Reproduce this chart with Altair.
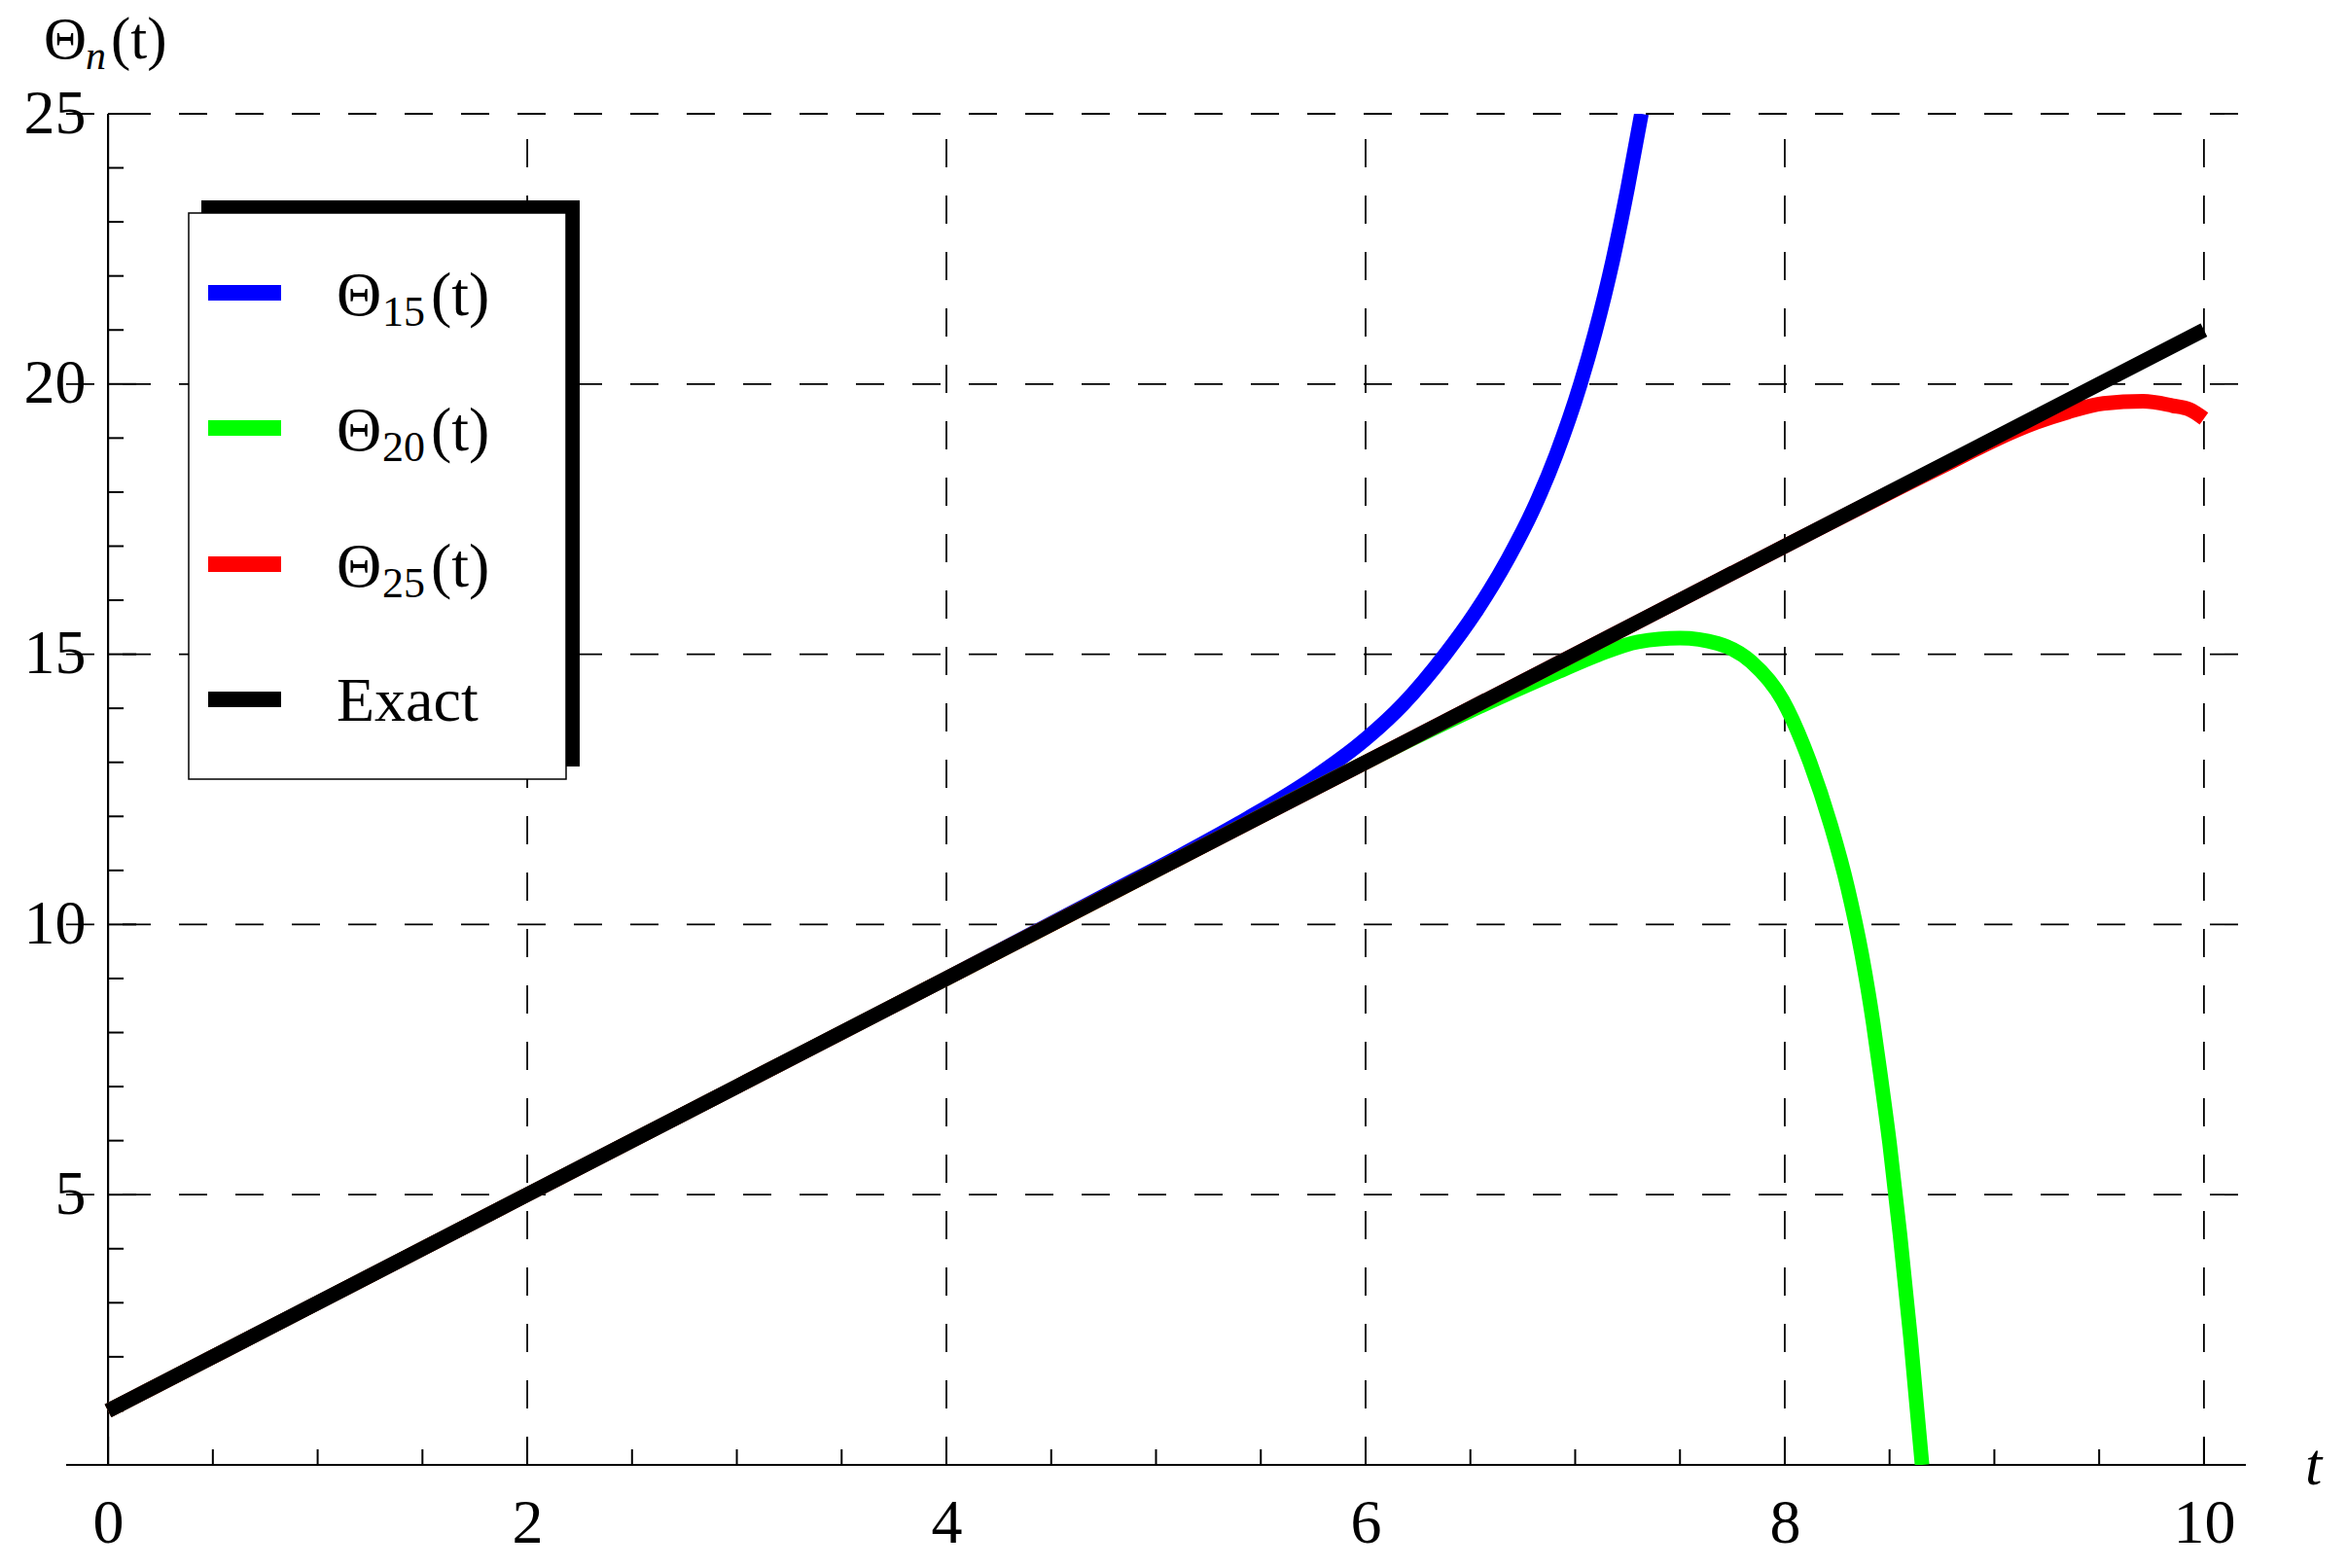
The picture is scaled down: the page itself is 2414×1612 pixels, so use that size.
import altair as alt
import pandas as pd

FONT = "Liberation Serif"

# ---------------- data ----------------
t_exact = [0, 2, 4, 6, 8, 10]
y_exact = [1, 5, 9, 13, 17, 21]

t_15 = [0, 1, 2, 3, 4, 4.5, 4.8, 5.1, 5.44, 5.75, 6.0, 6.18, 6.38, 6.52, 6.68,
        6.80, 6.91, 7.025, 7.095, 7.18, 7.25, 7.316]
y_15 = [1, 3, 5, 7, 9, 10.02, 10.63, 11.24, 11.97, 12.71, 13.43, 14.08, 15.0, 15.75,
        16.77, 17.68, 18.7, 20.0, 20.95, 22.3, 23.62, 25.0]

t_20 = [0, 1, 2, 3, 4, 5, 6, 6.2, 6.5, 6.91, 7.11, 7.30, 7.50, 7.68, 7.84, 7.99,
        8.12, 8.22, 8.30, 8.367, 8.422, 8.46, 8.50, 8.55, 8.60, 8.655]
y_20 = [1, 3, 5, 7, 9, 11, 13, 13.39, 13.95, 14.66, 14.99, 15.23, 15.30, 15.2,
        14.86, 14.15, 13.0, 11.83, 10.68, 9.45, 8.17, 7.12, 5.95, 4.25, 2.35, 0.0]

t_25 = [0, 1, 2, 3, 4, 5, 6, 7, 8, 8.5, 8.8, 9.0, 9.2, 9.35, 9.52, 9.71, 9.85,
        9.93, 10.0]
y_25 = [1, 3, 5, 7, 9, 11, 13, 15, 17, 17.99, 18.57, 18.96, 19.29, 19.48, 19.64,
        19.68, 19.6, 19.53, 19.36]

series_sub = ["15", "20", "25"]
series_colors = ["#0000FF", "#00FF00", "#FF0000", "#000000"]

x_major = [0, 2, 4, 6, 8, 10]
x_minor = [0.5, 1, 1.5, 2.5, 3, 3.5, 4.5, 5, 5.5, 6.5, 7, 7.5, 8.5, 9, 9.5]
y_major = [5, 10, 15, 20, 25]
y_minor = [1, 2, 3, 4, 6, 7, 8, 9, 11, 12, 13, 14, 16, 17, 18, 19, 21, 22, 23, 24]
x_grid = [2, 4, 6, 8, 10]
y_grid = [5, 10, 15, 20, 25]

# ---------------- layout ----------------
W, H = 2241, 1389
X_DOMAIN = [-0.2, 10.2]
Y_DOMAIN = [0, 25]
X0_PX = W * (0 - X_DOMAIN[0]) / (X_DOMAIN[1] - X_DOMAIN[0])

xs = alt.Scale(domain=X_DOMAIN, nice=False, zero=False)
ys = alt.Scale(domain=Y_DOMAIN, nice=False, zero=False)

x_axis = alt.Axis(values=x_major, format="d", labelFont=FONT, labelFontSize=64,
                  labelColor="black", labelPadding=28, ticks=False, tickSize=0,
                  domain=False, grid=False, title=None, labelFlush=False,
                  labelOverlap=False)
y_axis = alt.Axis(values=y_major, format="d", labelFont=FONT, labelFontSize=64,
                  labelColor="black", labelPadding=23, ticks=False, tickSize=0,
                  domain=False, grid=False, title=None, offset=-X0_PX,
                  labelAlign="right", labelBaseline="middle", labelOverlap=False)


def X(f):
    return alt.X(f, type="quantitative", scale=xs, axis=x_axis, title=None)


def Y(f):
    return alt.Y(f, type="quantitative", scale=ys, axis=y_axis, title=None)


one = pd.DataFrame({"k": [0]})
layers = []

# grid lines (dashed)
layers.append(
    alt.Chart(pd.DataFrame({"g": x_grid}))
    .mark_rule(color="black", strokeWidth=1.8, strokeDash=[29, 29])
    .encode(x=X("g"), y=alt.value(H), y2=alt.value(0))
)
layers.append(
    alt.Chart(pd.DataFrame({"g": y_grid}))
    .mark_rule(color="black", strokeWidth=1.8, strokeDash=[29, 29])
    .encode(y=Y("g"), x=alt.value(0), x2=alt.value(W))
)

# axis lines
layers.append(
    alt.Chart(one).mark_rule(color="black", strokeWidth=2.2)
    .encode(x=alt.value(0), x2=alt.value(W), y=alt.value(H))
)
layers.append(
    alt.Chart(one).mark_rule(color="black", strokeWidth=2.2)
    .encode(x=alt.datum(0), y=alt.value(0), y2=alt.value(H))
)

# ticks (pointing inward)
layers.append(
    alt.Chart(pd.DataFrame({"v": x_major}))
    .mark_rule(color="black", strokeWidth=2)
    .encode(x=X("v"), y=alt.value(H), y2=alt.value(H - 29))
)
layers.append(
    alt.Chart(pd.DataFrame({"v": x_minor}))
    .mark_rule(color="black", strokeWidth=2)
    .encode(x=X("v"), y=alt.value(H), y2=alt.value(H - 16))
)
layers.append(
    alt.Chart(pd.DataFrame({"v": y_major}))
    .mark_rule(color="black", strokeWidth=2, x2Offset=29)
    .encode(y=Y("v"), x=alt.datum(0), x2=alt.datum(0))
)
layers.append(
    alt.Chart(pd.DataFrame({"v": y_minor}))
    .mark_rule(color="black", strokeWidth=2, x2Offset=16)
    .encode(y=Y("v"), x=alt.datum(0), x2=alt.datum(0))
)

# curves
curves = [(t_15, y_15), (t_20, y_20), (t_25, y_25), (t_exact, y_exact)]
for (tt, yy), col in zip(curves, series_colors):
    df = pd.DataFrame({"t": tt, "y": yy})
    layers.append(
        alt.Chart(df)
        .mark_line(color=col, strokeWidth=15, strokeCap="butt", interpolate="monotone",
                   clip=True)
        .encode(x=X("t"), y=Y("y"), order="t:Q")
    )

# legend (custom, Mathematica style with shadow)
layers.append(
    alt.Chart(one).mark_rect(color="black")
    .encode(x=alt.value(139), x2=alt.value(528), y=alt.value(89), y2=alt.value(671))
)
layers.append(
    alt.Chart(one).mark_rect(fill="white", stroke="black", strokeWidth=1.5)
    .encode(x=alt.value(126), x2=alt.value(514), y=alt.value(102), y2=alt.value(684))
)
leg_y = [184, 323, 463, 602]
for i, cy in enumerate(leg_y):
    layers.append(
        alt.Chart(one).mark_rule(color=series_colors[i], strokeWidth=16, strokeCap="butt")
        .encode(x=alt.value(146), x2=alt.value(221), y=alt.value(cy), y2=alt.value(cy))
    )
    if i < 3:
        parts = [("Θ", 278, cy + 23, 64, "normal"),
                 (series_sub[i], 325, cy + 34, 44, "normal"),
                 ("(t)", 375, cy + 23, 64, "normal")]
    else:
        parts = [("Exact", 278, cy + 22, 64, "normal")]
    for txt, px, py, fs, st in parts:
        layers.append(
            alt.Chart(one).mark_text(text=txt, font=FONT, fontSize=fs, fontStyle=st,
                                     align="left", baseline="alphabetic", color="black")
            .encode(x=alt.value(px), y=alt.value(py))
        )

# axis titles
title_parts = [("Θ", -23, -57, 61, "normal"),
               ("n", 20, -46, 42, "italic"),
               ("(t)", 46, -57, 61, "normal"),
               ("t", 2302, 1409, 62, "italic")]
for txt, px, py, fs, st in title_parts:
    layers.append(
        alt.Chart(one).mark_text(text=txt, font=FONT, fontSize=fs, fontStyle=st,
                                 align="left", baseline="alphabetic", color="black")
        .encode(x=alt.value(px), y=alt.value(py))
    )

chart = (
    alt.layer(*layers)
    .properties(width=W, height=H, autosize=alt.AutoSizeParams(type="none"),
                padding={"left": 60, "top": 109, "right": 90, "bottom": 90},
                background="white")
    .configure_view(stroke=None)
)

chart.save("out.html", embed_options={"renderer": "svg", "actions": False})
